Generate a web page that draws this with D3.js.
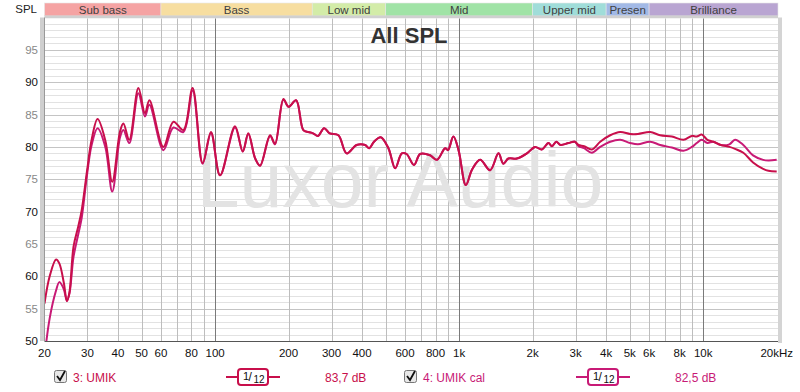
<!DOCTYPE html>
<html>
<head>
<meta charset="utf-8">
<script src="https://cdn.jsdelivr.net/npm/d3@7"></script>
<style>
  body { margin: 0; background: #fff; }
  svg text { font-family: 'Liberation Sans', Arial, sans-serif; }
</style>
</head>
<body>
<script>
// frequency points (Hz) shared by both traces
const freqs = [20,21,22.3,23,24,24.7,25.3,26.3,27.5,28.4,29.9,31.2,33,35.5,37.9,40.8,42.1,44.5,48.5,51.6,
  53.8,61.4,67.5,74.1,80.9,88.9,96.2,104.8,120.7,129.8,136.8,146,152.9,168,176,190.5,200,214.7,230,241,
  252,264,279.7,295,320,346,380,412,428,448,477,513,547,582,609,653,692,760,811,876,
  900,947,994,1065,1130,1219,1339,1449,1517,1591,1723,1894,2047,2180,2322,2400,2500,2600,2806,2980,
  3083,3250,3497,3783,4158,4568,5020,5400,6062,6662,7437,8300,8985,9400,9860,10400,11000,11800,12800,13500,
  14600,16000,17600,18500,20000]

// 3: UMIK
const umik = [55.8,60.0,62.6,62.0,59.0,56.2,57.5,64.6,67.7,70.2,76.4,81.1,84.3,81.0,74.6,82.4,83.6,81.1,89.1,85.2,
  87.2,80.0,83.9,82.6,89.1,77.5,82.3,75.6,83.2,79.3,82.1,78.2,77.1,81.8,80.5,87.4,86.2,87.2,82.6,82.3,
  82.1,81.7,82.9,82.1,81.8,79.0,80.3,80.3,79.8,80.8,81.5,79.8,76.7,79.0,78.9,77.2,78.9,78.7,78.0,79.8,
  79.5,81.6,79.5,74.1,76.5,78.0,76.4,79.0,77.4,78.2,78.2,79.0,80.0,79.6,80.6,80.1,80.8,80.3,80.6,80.8,
  80.3,80.1,79.6,80.8,81.8,82.3,82.0,82.0,82.3,81.8,81.6,81.1,81.7,81.6,81.9,81.1,80.8,80.3,80.0,79.7,
  79.1,77.6,76.6,76.3,76.2]

// 4: UMIK cal
const umikCal = [47.5,53.5,57.8,59.1,58.0,56.2,57.3,63.0,66.5,69.0,75.8,80.3,82.9,80.0,73.1,81.5,82.6,80.6,88.3,84.7,
  86.5,79.5,83.0,82.3,88.7,77.4,82.1,75.6,83.0,79.3,82.0,78.2,77.1,81.7,80.4,87.3,86.2,87.2,82.6,82.3,
  82.1,81.7,82.9,82.1,81.8,79.0,80.3,80.3,79.8,80.8,81.5,79.8,76.7,79.0,78.9,77.2,78.9,78.7,78.0,79.8,
  79.5,81.6,79.5,74.1,76.5,78.0,76.4,79.0,77.4,78.2,78.2,79.0,80.0,79.6,80.6,80.1,80.8,80.3,80.6,80.8,
  80.1,79.8,79.1,80.0,80.8,81.1,80.6,80.4,80.8,80.3,79.9,79.4,80.0,80.6,81.1,80.6,80.8,80.3,80.4,81.1,
  80.3,78.7,78.0,77.9,78.0]

const xTicks = [20,30,40,50,60,80,100,200,300,400,600,800,1000,2000,3000,4000,5000,6000,8000,10000,20000]
const xTickLabels = ['20','30','40','50','60','80','100','200','300','400','600','800','1k','2k','3k','4k','5k','6k','8k','10k','20kHz']
const xGrid = [30,40,50,60,70,80,90,100,200,300,400,500,600,700,800,900,1000,2000,3000,4000,5000,6000,7000,8000,9000,10000]
const yTicks = [50,55,60,65,70,75,80,85,90,95]

const bandNames = ['Sub bass','Bass','Low mid','Mid','Upper mid','Presen','Brilliance']
const bandEdges = [20,60,250,500,2000,4000,6000,20000]
const bandColors = ['#f5a3a3','#f7dea0','#d3eca8','#a0e3a6','#a0ddd9','#a2b9e6','#b9a5d2']

const traces = [
  { name: '3: UMIK', values: umik, color: '#c80f4b', level: '83,7 dB' },
  { name: '4: UMIK cal', values: umikCal, color: '#c81a76', level: '82,5 dB' }
]

const width = 800, height = 392
const svg = d3.select('body').append('svg')
    .attr('width', width)
    .attr('height', height)

const x = d3.scaleLog().domain([20, 20000]).range([44.5, 776.7])
const y = d3.scaleLinear().domain([50, 100]).range([341, 17.5])
const plotL = 44.5, plotR = 778, plotT = 17.5, plotB = 341

// band strip
const bands = svg.append('g')
bandNames.forEach(function(n, i) {
  const x0 = x(bandEdges[i]), x1 = i === bandNames.length - 1 ? plotR : x(bandEdges[i + 1])
  bands.append('rect')
      .attr('x', x0).attr('y', 3)
      .attr('width', x1 - x0).attr('height', 13)
      .attr('fill', bandColors[i])
      .attr('stroke', '#e6e6e6').attr('stroke-width', 0.6)
  bands.append('text')
      .attr('x', (x0 + x1) / 2).attr('y', 13.5)
      .attr('text-anchor', 'middle')
      .attr('font-size', 11.5)
      .attr('fill', '#404040')
      .text(n)
})

svg.append('text')
    .attr('x', 37).attr('y', 13)
    .attr('text-anchor', 'end')
    .attr('font-size', 11.5)
    .attr('fill', '#222')
    .text('SPL')

// plot frame shadows
svg.append('rect').attr('x', 40).attr('y', plotT).attr('width', 5).attr('height', plotB - plotT).attr('fill', '#cfcfcf')
svg.append('rect').attr('x', plotR).attr('y', plotT).attr('width', 4).attr('height', plotB - plotT + 2).attr('fill', '#d4d4d4')
svg.append('rect').attr('x', plotL).attr('y', 15.5).attr('width', plotR - plotL).attr('height', 3).attr('fill', '#d0d0d0')
svg.append('rect')
    .attr('x', plotL).attr('y', plotT + 1)
    .attr('width', plotR - plotL).attr('height', plotB - plotT - 1)
    .attr('fill', '#fff')

// grid
const grid = svg.append('g')
grid.selectAll('.hminor')
  .data(d3.range(51, 100))
  .enter().append('line')
    .attr('x1', plotL).attr('x2', plotR)
    .attr('y1', d => Math.round(y(d)) + 0.5).attr('y2', d => Math.round(y(d)) + 0.5)
    .attr('stroke', d => d % 5 === 0 ? '#c4c4c4' : '#e2e2e2')
grid.selectAll('.v')
  .data(xGrid)
  .enter().append('line')
    .attr('x1', d => Math.round(x(d)) + 0.5).attr('x2', d => Math.round(x(d)) + 0.5)
    .attr('y1', plotT + 1).attr('y2', plotB)
    .attr('stroke', d => [100, 1000, 10000].includes(d) ? '#7a7a7a' : '#bdbdbd')

// watermark and title
svg.append('text')
    .attr('x', 400).attr('y', 207)
    .attr('text-anchor', 'middle')
    .attr('font-size', 77)
    .attr('fill', '#e3e3e3')
    .text('Luxor Audio')

svg.append('text')
    .attr('x', 409).attr('y', 43)
    .attr('text-anchor', 'middle')
    .attr('font-size', 22)
    .attr('font-weight', 'bold')
    .attr('fill', '#333')
    .text('All SPL')

// traces
svg.append('clipPath').attr('id', 'clip')
  .append('rect').attr('x', plotL).attr('y', plotT).attr('width', plotR - plotL).attr('height', plotB - plotT)

const line = d3.line()
    .x((d, i) => x(freqs[i]))
    .y(d => y(d))
    .curve(d3.curveCatmullRom.alpha(0.5))

const lines = svg.append('g').attr('clip-path', 'url(#clip)')
traces.slice().reverse().forEach(function(t) {
  lines.append('path')
      .datum(t.values)
      .attr('d', line)
      .attr('fill', 'none')
      .attr('stroke', t.color)
      .attr('stroke-width', 2)
      .attr('stroke-linejoin', 'round')
})

// plot border
svg.append('line').attr('x1', plotL).attr('x2', plotR).attr('y1', plotB + 0.5).attr('y2', plotB + 0.5).attr('stroke', '#555')
svg.append('line').attr('x1', plotL).attr('x2', plotL).attr('y1', plotT).attr('y2', plotB).attr('stroke', '#999')

// axes labels
svg.selectAll('.ylab')
  .data(yTicks)
  .enter().append('text')
    .attr('x', 38).attr('y', d => y(d) + 4)
    .attr('text-anchor', 'end')
    .attr('font-size', 11.5)
    .attr('fill', d => d % 10 === 0 ? '#111' : '#888')
    .text(d => d)

svg.selectAll('.xlab')
  .data(xTicks)
  .enter().append('text')
    .attr('x', d => x(d)).attr('y', 357)
    .attr('text-anchor', 'middle')
    .attr('font-size', 11.5)
    .attr('fill', '#111')
    .text((d, i) => xTickLabels[i])

// legend
const legendX = [53, 403]
traces.forEach(function(t, i) {
  const g = svg.append('g').attr('transform', 'translate(' + legendX[i] + ',0)')
  g.append('rect')
      .attr('x', 1.5).attr('y', 370.5).attr('width', 12).attr('height', 12).attr('rx', 2)
      .attr('fill', '#e8e8e8').attr('stroke', '#777')
  g.append('path')
      .attr('d', 'M4,376 L7,380 L12,371')
      .attr('fill', 'none').attr('stroke', '#111').attr('stroke-width', 1.8)
  g.append('text')
      .attr('x', 20).attr('y', 382)
      .attr('font-size', 12)
      .attr('fill', t.color)
      .text(t.name)
  g.append('line')
      .attr('x1', 173).attr('x2', 227).attr('y1', 377).attr('y2', 377)
      .attr('stroke', t.color).attr('stroke-width', 2)
  g.append('rect')
      .attr('x', 185).attr('y', 369).attr('width', 30).attr('height', 16).attr('rx', 3)
      .attr('fill', '#fff').attr('stroke', t.color).attr('stroke-width', 2)
  const f = g.append('text').attr('font-size', 11).attr('fill', '#111')
  f.append('tspan').attr('x', 190).attr('y', 380).text('1')
  f.append('tspan').attr('x', 195.5).attr('y', 381).attr('font-size', 12).text('/')
  f.append('tspan').attr('x', 200.5).attr('y', 383).attr('font-size', 10).text('12')
  g.append('text')
      .attr('x', 272).attr('y', 382)
      .attr('font-size', 12)
      .attr('fill', t.color)
      .text(t.level)
})
</script>
</body>
</html>
